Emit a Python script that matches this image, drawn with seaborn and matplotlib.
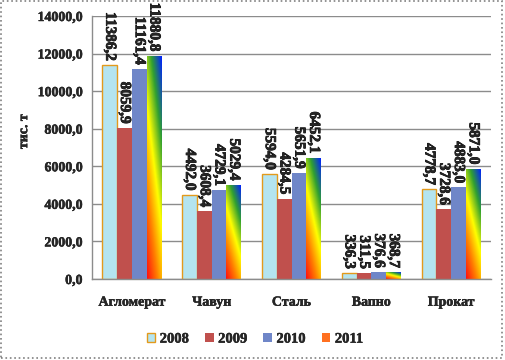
import numpy as np
import pandas as pd
import matplotlib
matplotlib.use("Agg")
import matplotlib.pyplot as plt
import seaborn as sns
from matplotlib import font_manager
from matplotlib import patheffects
from matplotlib.colors import LinearSegmentedColormap
from matplotlib.patches import Patch, Rectangle

categories = ["Агломерат", "Чавун", "Сталь", "Вапно", "Прокат"]
years = ["2008", "2009", "2010", "2011"]
v2008 = [11386.2, 4492.0, 5594.0, 336.3, 4778.7]
v2009 = [8059.9, 3608.4, 4284.5, 311.5, 3728.6]
v2010 = [11161.4, 4729.1, 5651.9, 376.6, 4883.0]
v2011 = [11880.8, 5029.4, 6452.1, 368.7, 5871.0]
series = [v2008, v2009, v2010, v2011]
y_ticks = [0, 2000, 4000, 6000, 8000, 10000, 12000, 14000]

colors = ["#B4E4F0", "#C0504D", "#6F86C8", "#FF7020"]
grad = LinearSegmentedColormap.from_list(
    "grad", ["#ff1010", "#ff8000", "#ffff00", "#30a030", "#0020ff"])

df = pd.DataFrame({
    "cat": categories * len(years),
    "year": [y for y in years for _ in categories],
    "val": [v for s in series for v in s],
})

sns.set_style("white")
plt.rcParams["font.family"] = ["Liberation Serif", "DejaVu Serif"]
plt.rcParams["font.weight"] = "bold"

# make the heavy Excel-style bold a bit heavier
bold_path = font_manager.findfont(
    font_manager.FontProperties(family="Liberation Serif", weight="bold"))
extra = 0.0 if "bold" in bold_path.lower() else 0.4
fx = [patheffects.withStroke(linewidth=0.3 + extra, foreground="black")]
fx_lab = [patheffects.withStroke(linewidth=0.55 + extra, foreground="black")]

fig = plt.figure(figsize=(5.05, 3.6), dpi=100)
ax = fig.add_axes([92 / 505, 1 - 279 / 360, 399 / 505, 263 / 360])

sns.barplot(data=df, x="cat", y="val", hue="year", palette=colors,
            width=0.74, saturation=1, errorbar=None, legend=False, ax=ax)

# 2008 bars: orange outline
for bar in ax.containers[0]:
    bar.set_edgecolor("#E39A1C")
    bar.set_linewidth(1.0)
for cont in ax.containers[1:]:
    for bar in cont:
        bar.set_linewidth(0)

# 2011 bars: diagonal rainbow gradient
for bar in ax.containers[3]:
    x0, y0 = bar.get_x(), bar.get_y()
    w, h = bar.get_width(), bar.get_height()
    X, Y = np.meshgrid(np.linspace(0, 1, 30), np.linspace(0, 1, 120))
    t = 0.35 * X + 0.65 * Y
    bar.set_facecolor("none")
    im = ax.imshow(t, cmap=grad, extent=[x0, x0 + w, y0, y0 + h],
                   origin="lower", aspect="auto", interpolation="bilinear",
                   zorder=bar.get_zorder(), vmin=0, vmax=1)
    im.set_clip_path(bar)

# value labels
for cont, vals in zip(ax.containers, series):
    for bar, v in zip(cont, vals):
        ax.annotate(f"{v:.1f}".replace(".", ","),
                    (bar.get_x() + bar.get_width() / 2, v),
                    xytext=(0, 3), textcoords="offset points",
                    rotation=270, ha="center", va="bottom",
                    fontsize=11, fontweight="bold", path_effects=fx_lab)

ax.set_xlim(-0.5, len(categories) - 0.5)
ax.set_ylim(0, 14000)
ax.set_yticks(y_ticks)
ax.set_yticklabels([f"{v:.1f}".replace(".", ",") for v in y_ticks],
                   fontsize=10, fontweight="bold", path_effects=fx)
ax.set_xticks(range(len(categories)))
ax.set_xticklabels(categories, fontsize=10, fontweight="bold",
                   path_effects=fx)
ax.set_xticks(np.arange(-0.5, len(categories)), minor=True)
ax.tick_params(axis="x", which="major", length=0, pad=12)
ax.tick_params(axis="x", which="minor", length=4, direction="out",
               color="#8c8c8c", width=1)
ax.tick_params(axis="y", length=4, direction="out", color="#8c8c8c",
               width=1, pad=3)
ax.set_xlabel("")
ax.set_ylabel("тис. т", fontsize=10, fontweight="bold", path_effects=fx)
ax.yaxis.set_label_coords(-0.155, 0.56)

ax.yaxis.grid(True, color="#8c8c8c", lw=1)
ax.set_axisbelow(True)
for s in ["top", "right"]:
    ax.spines[s].set_visible(False)
for s in ["left", "bottom"]:
    ax.spines[s].set_color("#8c8c8c")
    ax.spines[s].set_linewidth(1)

handles = [Patch(facecolor=c, edgecolor=e, lw=1)
           for c, e in zip(colors, ["#E39A1C", "none", "none", "none"])]
leg = fig.legend(handles, years, loc="center", bbox_to_anchor=(0.505, 0.058),
                 ncol=4, frameon=False, handlelength=0.6, handleheight=0.6,
                 handletextpad=0.3, columnspacing=1.1,
                 prop={"size": 10.5, "weight": "bold"})
for txt in leg.get_texts():
    txt.set_path_effects(fx)

fig.add_artist(Rectangle((0.002, 0.006), 0.992, 0.99,
                         transform=fig.transFigure, fill=False,
                         edgecolor="#808080", linestyle=":", lw=1.2))

fig.savefig("out.png", dpi=100)
